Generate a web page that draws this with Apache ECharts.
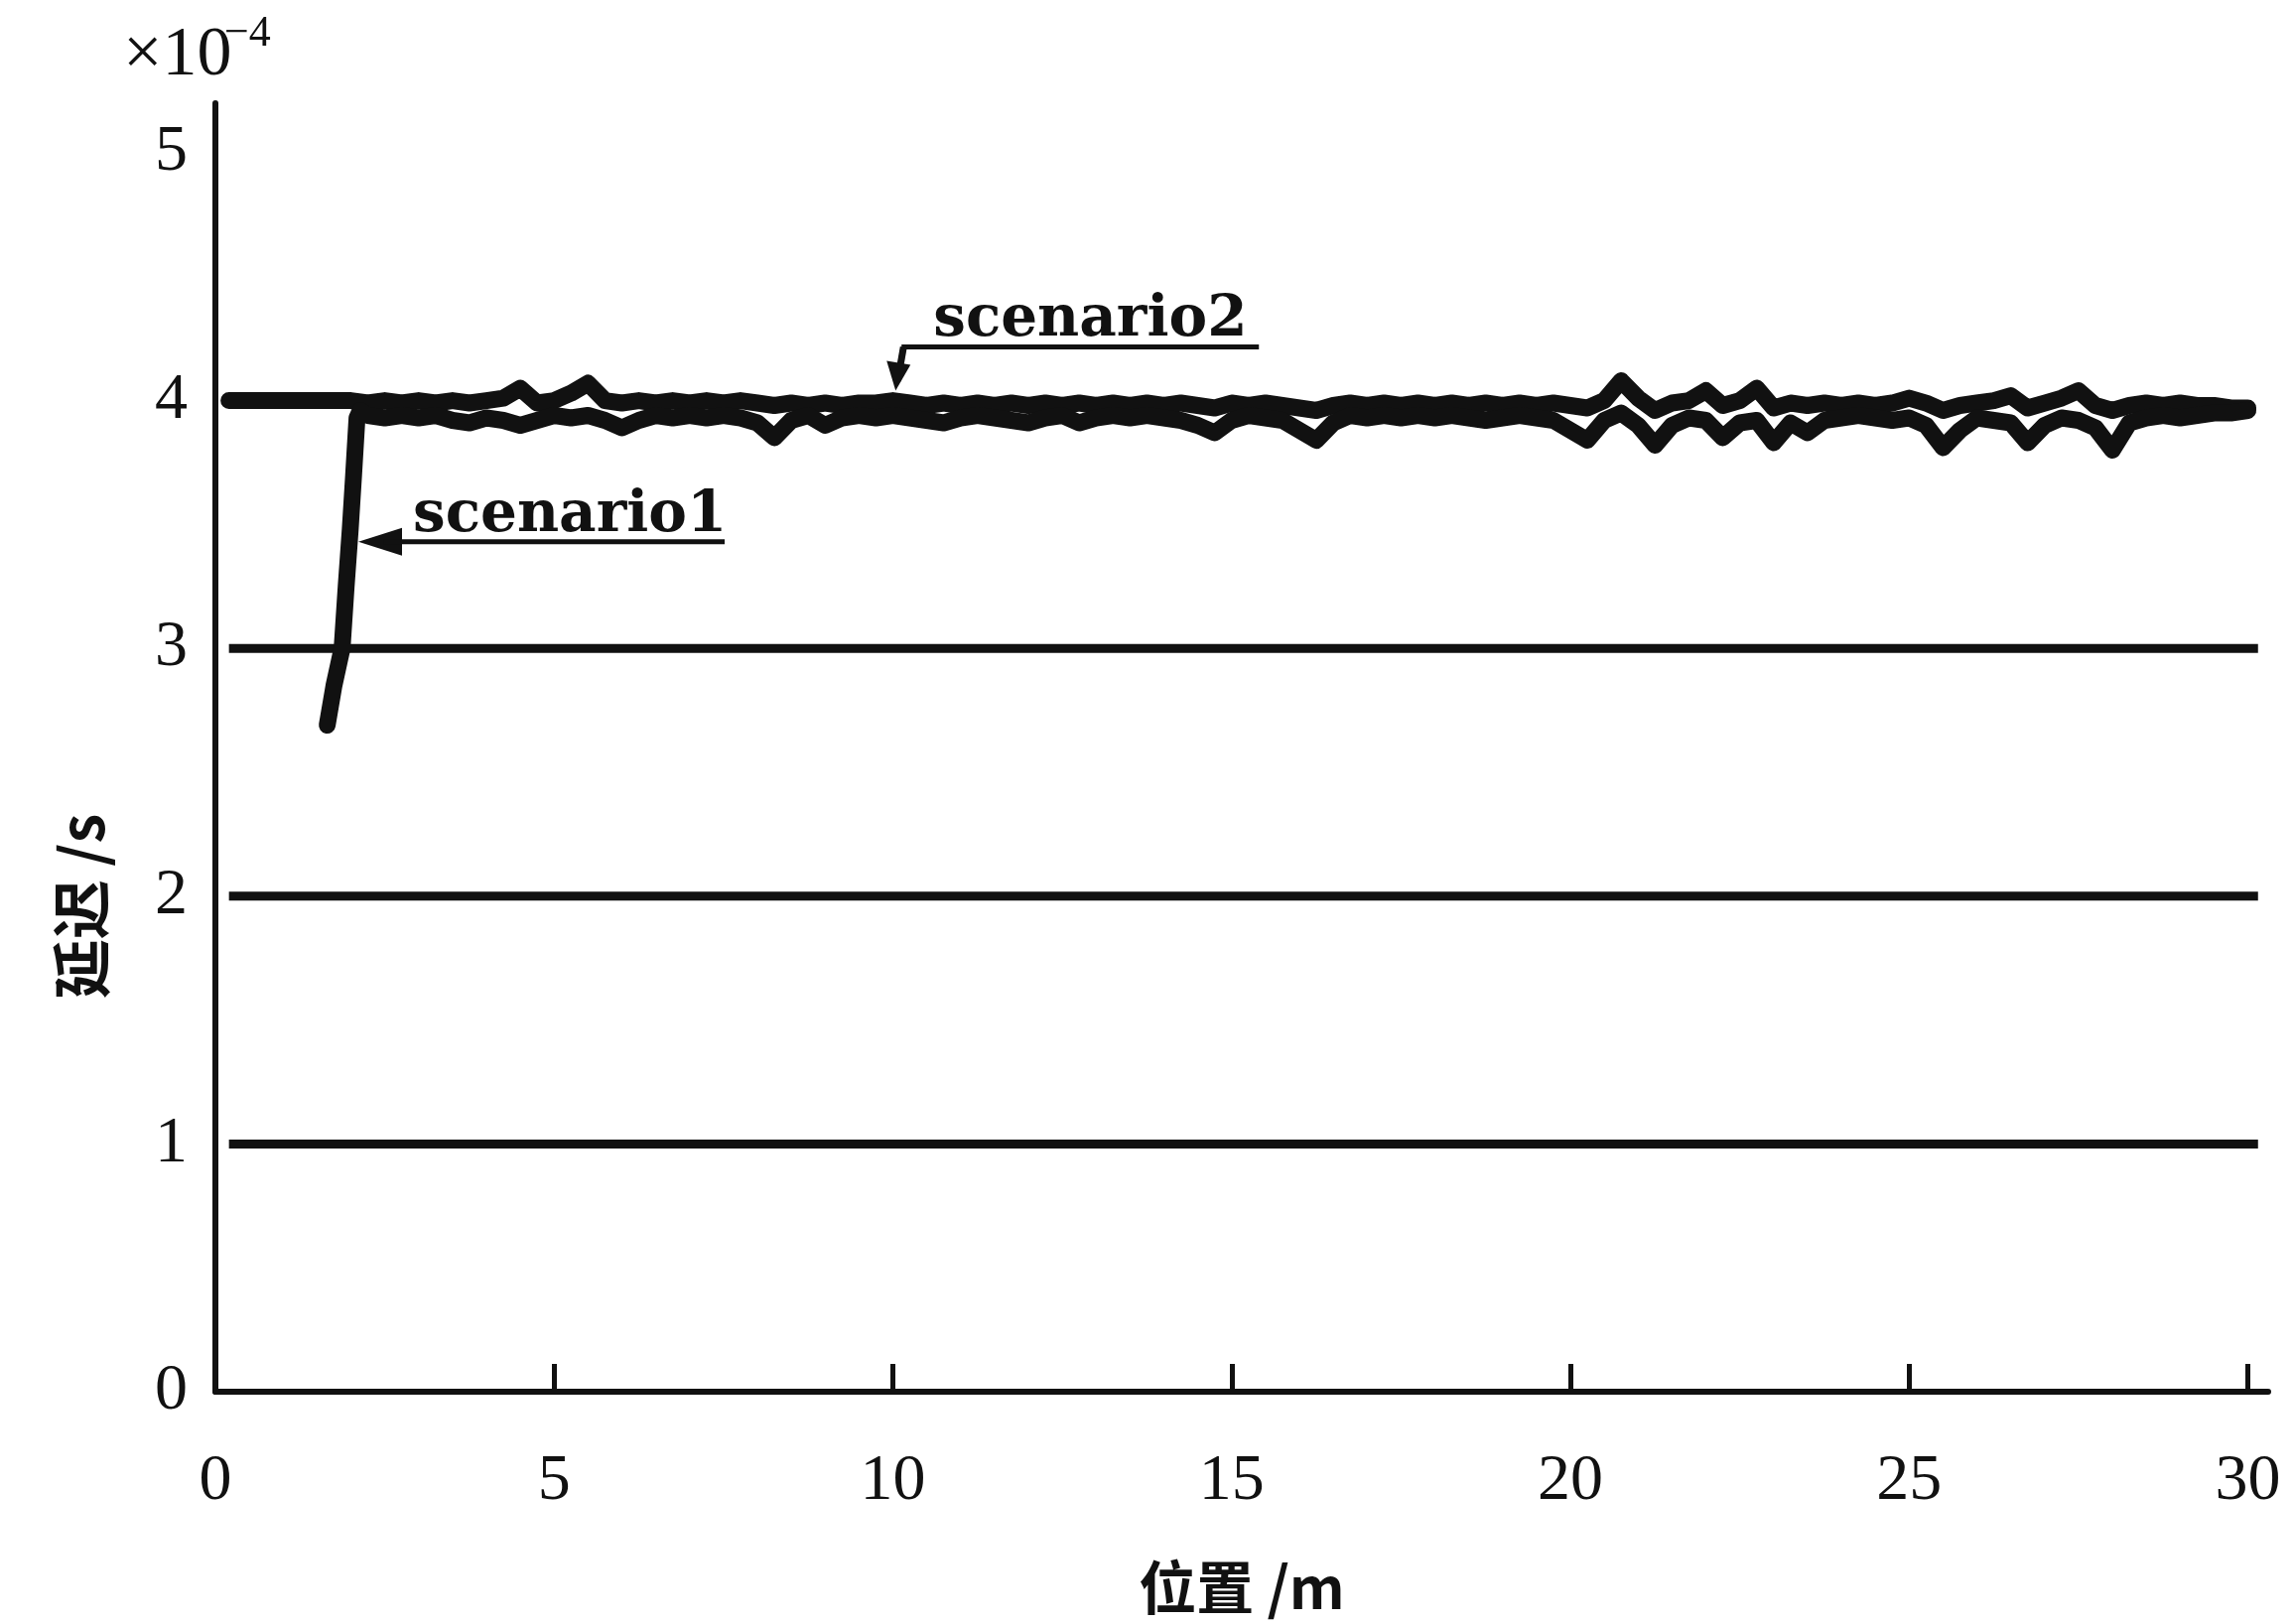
<!DOCTYPE html>
<html><head><meta charset="utf-8">
<script src="https://cdn.jsdelivr.net/npm/echarts@6/dist/echarts.min.js"></script>
<style>html,body{margin:0;padding:0;background:#fff}#c{width:2311px;height:1636px}</style>
</head><body><div id="c"></div>
<script>
// ---- data ----
const xTickValues = [0, 5, 10, 15, 20, 25, 30];
const yTickValues = [0, 1, 2, 3, 4, 5];
const refLevels = [1, 2, 3];
const refStart = 0.2, refEnd = 30.15;

const bandX = [2.25,2.5,2.75,3,3.25,3.5,3.75,4,4.25,4.5,4.75,5,5.25,5.5,5.75,6,6.25,6.5,6.75,7,7.25,7.5,7.75,8,8.25,8.5,8.75,9,9.25,9.5,9.75,10,10.25,10.5,10.75,11,11.25,11.5,11.75,12,12.25,12.5,12.75,13,13.25,13.5,13.75,14,14.25,14.5,14.75,15,15.25,15.5,15.75,16,16.25,16.5,16.75,17,17.25,17.5,17.75,18,18.25,18.5,18.75,19,19.25,19.5,19.75,20,20.25,20.5,20.75,21,21.25,21.5,21.75,22,22.25,22.5,22.75,23,23.25,23.5,23.75,24,24.25,24.5,24.75,25,25.25,25.5,25.75,26,26.25,26.5,26.75,27,27.25,27.5,27.75,28,28.25,28.5,28.75,29,29.25,29.5,29.75,30];

const s1RiseX = [1.65, 1.75, 1.87, 1.93, 1.99, 2.04, 2.09, 2.14];
const s1RiseY = [2.69, 2.85, 3.00, 3.25, 3.48, 3.70, 3.93, 3.96];
const s1Band = [
 3.94,3.93,3.94,3.93, 3.94,3.92,3.91,3.93, 3.92,3.90,3.92,3.94, 3.93,3.94,3.92,3.89,
 3.92,3.94,3.93,3.94, 3.93,3.94,3.93,3.91, 3.85,3.92,3.94,3.90, 3.93,3.94,3.93,3.94,
 3.93,3.92,3.91,3.93, 3.94,3.93,3.92,3.91, 3.93,3.94,3.91,3.93, 3.94,3.93,3.94,3.93,
 3.92,3.90,3.87,3.92, 3.94,3.93,3.92,3.88, 3.84,3.91,3.94,3.93, 3.94,3.93,3.94,3.93,
 3.94,3.93,3.92,3.93, 3.94,3.93,3.92,3.88, 3.84,3.92,3.95,3.90, 3.82,3.90,3.93,3.92,
 3.85,3.91,3.92,3.83, 3.91,3.87,3.92,3.93, 3.94,3.93,3.92,3.93, 3.90,3.81,3.88,3.93,
 3.92,3.91,3.83,3.90, 3.93,3.92,3.89,3.80, 3.91,3.93,3.94,3.93, 3.94,3.95,3.95,3.96];

const s2StartX = [0.2, 1.0, 2.0];
const s2StartY = [4.00, 4.00, 4.00];
const s2Band = [
 3.99,4.00,3.99,4.00, 3.99,4.00,3.99,4.00, 4.01,4.05,3.99,4.00, 4.03,4.07,4.00,3.99,
 4.00,3.99,4.00,3.99, 4.00,3.99,4.00,3.99, 3.98,3.99,3.98,3.99, 3.98,3.99,3.99,4.00,
 3.99,3.98,3.99,3.98, 3.99,3.98,3.99,3.98, 3.99,3.98,3.99,3.98, 3.99,3.98,3.99,3.98,
 3.99,3.98,3.97,3.99, 3.98,3.99,3.98,3.97, 3.96,3.98,3.99,3.98, 3.99,3.98,3.99,3.98,
 3.99,3.98,3.99,3.98, 3.99,3.98,3.99,3.98, 3.97,4.00,4.08,4.01, 3.96,3.99,4.00,4.04,
 3.98,4.00,4.05,3.97, 3.99,3.98,3.99,3.98, 3.99,3.98,3.99,4.01, 3.99,3.96,3.98,3.99,
 4.00,4.02,3.97,3.99, 4.01,4.04,3.98,3.96, 3.98,3.99,3.98,3.99, 3.98,3.98,3.97,3.97];

const tip1 = [2.11, 3.43];   // arrow tip of "scenario1" annotation
const tip2 = [10.04, 4.04];  // arrow tip of "scenario2" annotation
// --------------------------------------

const ink = '#111';
const serif = '"Liberation Serif", "DejaVu Serif", serif';
const chart = echarts.init(document.getElementById('c'), null, {renderer: 'canvas'});

const s1Data = s1RiseX.map((x, i) => [x, s1RiseY[i]]).concat(bandX.map((x, i) => [x, s1Band[i]]));
const s2Data = s2StartX.map((x, i) => [x, s2StartY[i]]).concat(bandX.map((x, i) => [x, s2Band[i]]));

const lineBase = {type: 'line', symbol: 'none', silent: true, animation: false, smooth: false};

const series = refLevels.map(v => Object.assign({}, lineBase, {
  name: 'ref' + v,
  data: [[refStart, v], [refEnd, v]],
  lineStyle: {color: ink, width: 9}
})).concat([
  Object.assign({}, lineBase, {name: 'scenario2', data: s2Data, lineStyle: {color: ink, width: 17, join: 'round', cap: 'round'}}),
  Object.assign({}, lineBase, {name: 'scenario1', data: s1Data, lineStyle: {color: ink, width: 17, join: 'round', cap: 'round'}})
]);

chart.setOption({
  backgroundColor: '#fff',
  animation: false,
  grid: {left: 217, right: 26, top: 104, bottom: 234, containLabel: false, outerBoundsMode: 'none'},
  xAxis: {
    type: 'value', min: 0, max: 30.3,
    name: '位置 /m', nameLocation: 'middle', nameGap: 168,
    nameTextStyle: {fontFamily: '"Noto Sans CJK SC", sans-serif', fontWeight: 'bold', fontSize: 58, color: ink},
    axisLine: {show: true, onZero: false, lineStyle: {color: ink, width: 6}},
    axisTick: {show: true, inside: true, length: 28, customValues: xTickValues, lineStyle: {color: ink, width: 5}},
    axisLabel: {customValues: xTickValues, margin: 58, fontFamily: serif, fontSize: 66, color: ink},
    splitLine: {show: false}
  },
  yAxis: {
    type: 'value', min: 0, max: 5.2,
    axisLine: {show: true, onZero: false, lineStyle: {color: ink, width: 6}},
    axisTick: {show: false},
    axisLabel: {customValues: yTickValues, margin: 28, fontFamily: serif, fontSize: 66, color: ink},
    splitLine: {show: false}
  },
  series: series
});

const p1 = chart.convertToPixel({gridIndex: 0}, tip1);
const p2 = chart.convertToPixel({gridIndex: 0}, tip2);
const annFont = '"DejaVu Serif", serif';

chart.setOption({
  graphic: [
    // axis scale factor
    {type: 'text', left: 124, top: 22, style: {text: '×10', font: '70px ' + serif, fill: ink}},
    {type: 'text', left: 226, top: 12, style: {text: '−4', font: '44px ' + serif, fill: ink}},
    // y axis name
    {type: 'text', x: 82, y: 913, rotation: Math.PI / 2,
     style: {text: '延迟 /s', font: 'bold 60px "Noto Sans CJK SC", sans-serif', fill: ink, align: 'center', verticalAlign: 'middle'}},
    // scenario1 annotation
    {type: 'polygon', shape: {points: [[p1[0], p1[1]], [p1[0] + 44, p1[1] - 14], [p1[0] + 44, p1[1] + 14]]}, style: {fill: ink}},
    {type: 'line', shape: {x1: p1[0] + 25, y1: p1[1], x2: p1[0] + 369, y2: p1[1]}, style: {stroke: ink, lineWidth: 5}},
    {type: 'text', x: p1[0] + 55, y: p1[1] - 26,
     style: {text: 'scenario1', font: 'bold 58px ' + annFont, fill: ink, align: 'left', verticalAlign: 'middle'}},
    // scenario2 annotation
    {type: 'line', shape: {x1: p2[0] + 8, y1: p2[1] - 44, x2: p2[0] + 2, y2: p2[1] - 10}, style: {stroke: ink, lineWidth: 7}},
    {type: 'polygon', shape: {points: [[p2[0], p2[1]], [p2[0] - 9, p2[1] - 30], [p2[0] + 15, p2[1] - 26]]}, style: {fill: ink}},
    {type: 'line', shape: {x1: p2[0] + 6, y1: p2[1] - 44, x2: p2[0] + 366, y2: p2[1] - 44}, style: {stroke: ink, lineWidth: 5}},
    {type: 'text', x: p2[0] + 38, y: p2[1] - 71,
     style: {text: 'scenario2', font: 'bold 58px ' + annFont, fill: ink, align: 'left', verticalAlign: 'middle'}}
  ]
});
</script></body></html>
